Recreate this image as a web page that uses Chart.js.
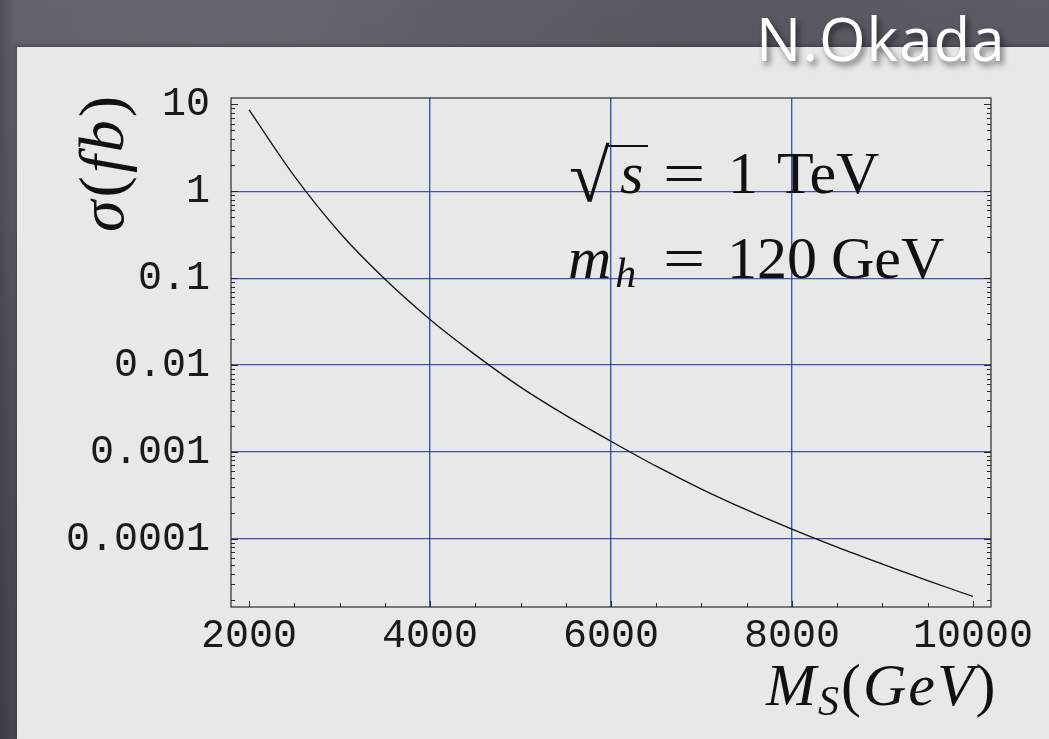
<!DOCTYPE html>
<html>
<head>
<meta charset="utf-8">
<script src="https://cdn.jsdelivr.net/npm/chart.js@4.4.0/dist/chart.umd.min.js"></script>
<style>
  html, body { margin: 0; padding: 0; width: 1049px; height: 739px; overflow: hidden; }
  body {
    position: relative;
    background:
      linear-gradient(to right, rgba(0,0,0,0.18), rgba(0,0,0,0) 18px),
      radial-gradient(ellipse at 20% 10%, rgba(255,255,255,0.05), transparent 40%),
      radial-gradient(ellipse at 70% 20%, rgba(0,0,0,0.08), transparent 45%),
      linear-gradient(to bottom, #5c5f67, #484b53);
  }
  #panel {
    position: absolute; left: 17px; top: 47px; right: 0; bottom: 0;
    background: #e7e8e8;
    box-shadow: 0 -1px 4px rgba(0,0,0,0.35);
  }
  #chart { position: absolute; left: 0; top: 0; }
  .math {
    position: absolute; white-space: nowrap; color: #111;
    font-family: 'Liberation Serif', 'DejaVu Serif', serif;
    font-size: 60px; line-height: 1;
  }
  .math i { font-style: italic; }
  .vinc { position: absolute; height: 2px; background: #111; }
  #signature {
    position: absolute; left: 756px; top: 8px;
    font-family: 'Open Sans', 'Noto Sans', sans-serif; font-weight: 400;
    font-size: 60px; line-height: 1; letter-spacing: 1px;
    color: #ffffff;
    text-shadow: 3px 4px 6px rgba(0,0,0,0.55);
  }
</style>
</head>
<body>
<div id="panel"></div>
<canvas id="chart" width="1049" height="739"></canvas>

<div id="signature">N.Okada</div>

<!-- annotations: √s = 1 TeV -->
<div class="math" style="left:569px; top:139px; font-size:74px;">√</div>
<div class="vinc" style="left:606px; top:145px; width:42px;"></div>
<div class="math" style="left:620px; top:143px;"><i>s</i></div>
<div class="math" style="left:663px; top:143px; transform:scaleX(1.25); transform-origin:0 0;">=</div>
<div class="math" style="left:728px; top:143px;">1</div>
<div class="math" style="left:777px; top:143px;">TeV</div>
<!-- m_h = 120 GeV -->
<div class="math" style="left:568px; top:228px;"><i>m</i><i style="font-size:42px; position:relative; top:9px; margin-left:4px;">h</i></div>
<div class="math" style="left:663px; top:228px; transform:scaleX(1.25); transform-origin:0 0;">=</div>
<div class="math" style="left:727px; top:228px;">120</div>
<div class="math" style="left:831px; top:228px;">GeV</div>

<!-- axis titles -->
<div class="math" style="left:766px; top:655px; letter-spacing:2px;"><i>M</i><i style="font-size:42px; position:relative; top:10px;">S</i>(<i>GeV</i>)</div>
<div class="math" style="left:0; top:0; font-size:64px; letter-spacing:3px; transform-origin:0 0; transform:translate(70px,232px) rotate(-90deg);"><i>σ</i>(<i>fb</i>)</div>

<script>
// ============================================
// σ(fb) vs M_S — log plot, Mathematica style
// ============================================

const massGeV = [2000, 2500, 3000, 3500, 4000, 4500, 5000, 5500, 6000,
                 6500, 7000, 7500, 8000, 8500, 9000, 9500, 10000];
const sigmaFb = [8.6, 1.49, 0.335, 0.0975, 0.0334, 0.0131, 0.00558, 0.00264, 0.00133,
                 0.000687, 0.000375, 0.000216, 0.000130, 0.0000807, 0.0000514, 0.0000331, 0.0000218];

const xTickValues = [2000, 4000, 6000, 8000, 10000];
const xGridValues = [4000, 6000, 8000];
const yTickValues = [0.0001, 0.001, 0.01, 0.1, 1, 10];
const yTickLabels = ['0.0001', '0.001', '0.01', '0.1', '1', '10'];
const yGridValues = [0.0001, 0.001, 0.01, 0.1, 1];

const gridBlue = 'rgba(34, 48, 165, 0.82)';
const tickFont = { family: "'Liberation Mono', 'DejaVu Sans Mono', monospace", size: 40 };

// frame + inward ticks (left, right, bottom)
const frameTicks = {
  id: 'frameTicks',
  afterDraw(chart) {
    const { ctx, chartArea: a, scales: { x, y } } = chart;
    ctx.save();
    ctx.strokeStyle = '#2a2a2a';
    ctx.lineWidth = 1.2;
    ctx.strokeRect(a.left, a.top, a.right - a.left, a.bottom - a.top);

    ctx.lineWidth = 1;
    ctx.beginPath();
    // log ticks on left and right
    for (let e = -6; e <= 1; e++) {
      for (let k = 1; k <= 9; k++) {
        const v = k * Math.pow(10, e);
        if (v < y.min || v > y.max) continue;
        const py = Math.round(y.getPixelForValue(v)) + 0.5;
        const len = k === 1 ? 7 : 4;
        ctx.moveTo(a.left, py); ctx.lineTo(a.left + len, py);
        ctx.moveTo(a.right, py); ctx.lineTo(a.right - len, py);
      }
    }
    // linear ticks on bottom, every 500
    for (let m = 2000; m <= 10000; m += 500) {
      const px = Math.round(x.getPixelForValue(m)) + 0.5;
      const len = m % 2000 === 0 ? 6 : 4;
      ctx.moveTo(px, a.bottom); ctx.lineTo(px, a.bottom - len);
    }
    ctx.stroke();
    ctx.restore();
  }
};

new Chart(document.getElementById('chart'), {
  type: 'line',
  data: {
    datasets: [{
      label: 'sigma',
      data: massGeV.map((m, i) => ({ x: m, y: sigmaFb[i] })),
      borderColor: '#111111',
      borderWidth: 1.3,
      pointRadius: 0,
      fill: false,
      cubicInterpolationMode: 'monotone'
    }]
  },
  options: {
    responsive: false,
    animation: false,
    layout: { padding: { top: 98, right: 58, left: 0, bottom: 0 } },
    plugins: { legend: { display: false }, tooltip: { enabled: false } },
    scales: {
      x: {
        type: 'linear',
        min: 1800,
        max: 10200,
        afterBuildTicks: s => { s.ticks = xTickValues.map(v => ({ value: v })); },
        afterFit: s => { s.height = 132; s.paddingLeft = 0; s.paddingRight = 0; },
        border: { display: false },
        grid: {
          drawTicks: false,
          lineWidth: 1.4,
          color: c => xGridValues.includes(c.tick && c.tick.value) ? gridBlue : 'transparent'
        },
        ticks: {
          autoSkip: false, maxRotation: 0, padding: 5,
          color: '#1a1a1a', font: tickFont,
          callback: v => String(v)
        }
      },
      y: {
        type: 'logarithmic',
        min: 0.0000165,
        max: 11.8,
        afterBuildTicks: s => { s.ticks = yTickValues.map(v => ({ value: v })); },
        afterFit: s => { s.width = 231; s.paddingTop = 0; s.paddingBottom = 0; },
        border: { display: false },
        grid: {
          drawTicks: false,
          lineWidth: 1.2,
          color: c => yGridValues.includes(c.tick && c.tick.value) ? gridBlue : 'transparent'
        },
        ticks: {
          autoSkip: false, padding: 21,
          color: '#1a1a1a', font: tickFont,
          callback: (v, i) => yTickLabels[i]
        }
      }
    }
  },
  plugins: [frameTicks]
});
</script>
</body>
</html>
